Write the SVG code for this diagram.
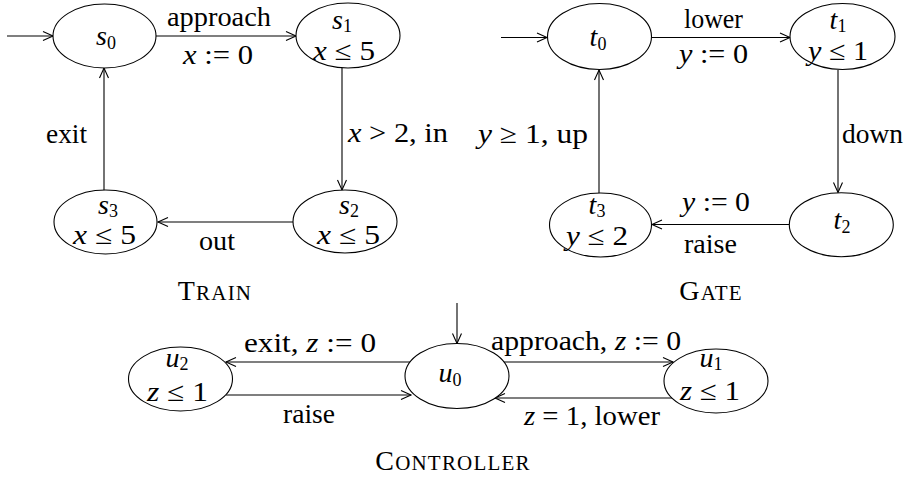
<svg xmlns="http://www.w3.org/2000/svg" width="911" height="482" viewBox="0 0 911 482">
<style>
text { font-family: "Liberation Serif", "Times New Roman", serif; font-size: 27px; fill: #000; }
.i { font-style: italic; }
.v { font-style: italic; font-size: 28px; }
.sub { font-size: 18px; }
.cap { font-size: 28px; letter-spacing: 1.2px; }
.sc { font-size: 21px; }
ellipse { fill: #fff; stroke: #000; stroke-width: 1.1; }
.e { fill: none; stroke: #000; stroke-width: 1.1; marker-end: url(#a); }
</style>
<defs>
<marker id="a" markerUnits="userSpaceOnUse" markerWidth="12" markerHeight="10" refX="10" refY="4.5" orient="auto" overflow="visible">
<path d="M0,0 L10,4.5 L0,9" fill="none" stroke="#000" stroke-width="1.1"/>
</marker>
</defs>

<g id="connectors">
<line class="e" x1="7" y1="36" x2="53" y2="36"/>
<line class="e" x1="156" y1="36" x2="296" y2="36"/>
<line class="e" x1="342" y1="68" x2="342" y2="190"/>
<line class="e" x1="293" y1="222" x2="158" y2="222"/>
<line class="e" x1="104" y1="190" x2="104" y2="68"/>

<line class="e" x1="501" y1="37.5" x2="547" y2="37.5"/>
<line class="e" x1="652" y1="37.5" x2="790" y2="37.5"/>
<line class="e" x1="838" y1="70" x2="838" y2="192.5"/>
<line class="e" x1="789" y1="224.5" x2="652" y2="224.5"/>
<line class="e" x1="599" y1="193" x2="599" y2="70"/>

<line class="e" x1="457" y1="303" x2="457" y2="343.5"/>
<line class="e" x1="410" y1="362" x2="226" y2="362"/>
<line class="e" x1="226" y1="395" x2="411" y2="395"/>
<line class="e" x1="504" y1="362" x2="673" y2="362"/>
<line class="e" x1="672" y1="398" x2="495" y2="398"/>

<text x="167" y="26" textLength="104" lengthAdjust="spacingAndGlyphs">approach</text>
<text x="183" y="64" textLength="70" lengthAdjust="spacingAndGlyphs"><tspan class="i">x</tspan> := 0</text>
<text x="348" y="142" textLength="100" lengthAdjust="spacingAndGlyphs"><tspan class="i">x</tspan> &gt; 2, in</text>
<text x="199" y="250" textLength="36" lengthAdjust="spacingAndGlyphs">out</text>
<text x="46" y="143" textLength="41" lengthAdjust="spacingAndGlyphs">exit</text>

<text x="684" y="28" textLength="59" lengthAdjust="spacingAndGlyphs">lower</text>
<text x="679" y="63" textLength="69" lengthAdjust="spacingAndGlyphs"><tspan class="i">y</tspan> := 0</text>
<text x="842" y="143" textLength="61" lengthAdjust="spacingAndGlyphs">down</text>
<text x="682" y="211" textLength="68" lengthAdjust="spacingAndGlyphs"><tspan class="i">y</tspan> := 0</text>
<text x="684" y="253" textLength="53" lengthAdjust="spacingAndGlyphs">raise</text>
<text x="478" y="143" textLength="110" lengthAdjust="spacingAndGlyphs"><tspan class="i">y</tspan> ≥ 1, up</text>

<text x="244" y="352" textLength="132" lengthAdjust="spacingAndGlyphs">exit, <tspan class="i">z</tspan> := 0</text>
<text x="283" y="423" textLength="52" lengthAdjust="spacingAndGlyphs">raise</text>
<text x="491" y="350" textLength="190" lengthAdjust="spacingAndGlyphs">approach, <tspan class="i">z</tspan> := 0</text>
<text x="524" y="425" textLength="136" lengthAdjust="spacingAndGlyphs"><tspan class="i">z</tspan> = 1, lower</text>
</g>

<g id="s0"><ellipse cx="104.5" cy="36" rx="51.5" ry="32"/>
<text x="106" y="45" text-anchor="middle"><tspan class="v">s</tspan><tspan class="sub" dy="4">0</tspan></text></g>
<g id="s1"><ellipse cx="348" cy="35.5" rx="52" ry="32.5"/>
<text x="342" y="29" text-anchor="middle"><tspan class="v">s</tspan><tspan class="sub" dy="3">1</tspan></text>
<text x="313" y="60" textLength="62" lengthAdjust="spacingAndGlyphs"><tspan class="i">x</tspan> ≤ 5</text></g>
<g id="s2"><ellipse cx="345" cy="221.5" rx="52" ry="31.5"/>
<text x="349" y="214" text-anchor="middle"><tspan class="v">s</tspan><tspan class="sub" dy="3">2</tspan></text>
<text x="317" y="244" textLength="63" lengthAdjust="spacingAndGlyphs"><tspan class="i">x</tspan> ≤ 5</text></g>
<g id="s3"><ellipse cx="105.5" cy="222" rx="51.5" ry="32"/>
<text x="108" y="214" text-anchor="middle"><tspan class="v">s</tspan><tspan class="sub" dy="3">3</tspan></text>
<text x="73" y="244" textLength="63" lengthAdjust="spacingAndGlyphs"><tspan class="i">x</tspan> ≤ 5</text></g>

<g id="t0"><ellipse cx="599.5" cy="36.5" rx="52" ry="33"/>
<text x="598" y="46" text-anchor="middle"><tspan class="v">t</tspan><tspan class="sub" dy="4">0</tspan></text></g>
<g id="t1"><ellipse cx="842.5" cy="36.5" rx="52.5" ry="33"/>
<text x="838" y="29" text-anchor="middle"><tspan class="v">t</tspan><tspan class="sub" dy="3">1</tspan></text>
<text x="808" y="60" textLength="60" lengthAdjust="spacingAndGlyphs"><tspan class="i">y</tspan> ≤ 1</text></g>
<g id="t2"><ellipse cx="841.3" cy="224.7" rx="52" ry="32"/>
<text x="842" y="229" text-anchor="middle"><tspan class="v">t</tspan><tspan class="sub" dy="4">2</tspan></text></g>
<g id="t3"><ellipse cx="600.5" cy="225" rx="51" ry="32"/>
<text x="597" y="214" text-anchor="middle"><tspan class="v">t</tspan><tspan class="sub" dy="3">3</tspan></text>
<text x="566" y="245" textLength="62" lengthAdjust="spacingAndGlyphs"><tspan class="i">y</tspan> ≤ 2</text></g>

<g id="u2"><ellipse cx="180.5" cy="379" rx="52" ry="32"/>
<text x="177" y="367" text-anchor="middle"><tspan class="v">u</tspan><tspan class="sub" dy="3">2</tspan></text>
<text x="147" y="401" textLength="61" lengthAdjust="spacingAndGlyphs"><tspan class="i">z</tspan> ≤ 1</text></g>
<g id="u0"><ellipse cx="457" cy="376" rx="52" ry="32.5"/>
<text x="450" y="382" text-anchor="middle"><tspan class="v">u</tspan><tspan class="sub" dy="4">0</tspan></text></g>
<g id="u1"><ellipse cx="716" cy="381" rx="52" ry="32"/>
<text x="711" y="367" text-anchor="middle"><tspan class="v">u</tspan><tspan class="sub" dy="3">1</tspan></text>
<text x="680" y="400" textLength="60" lengthAdjust="spacingAndGlyphs"><tspan class="i">z</tspan> ≤ 1</text></g>

<g id="captions">
<text class="cap" x="215" y="300" text-anchor="middle">T<tspan class="sc">RAIN</tspan></text>
<text class="cap" x="711" y="300" text-anchor="middle">G<tspan class="sc">ATE</tspan></text>
<text class="cap" x="453" y="470" text-anchor="middle">C<tspan class="sc">ONTROLLER</tspan></text>
</g>
</svg>
